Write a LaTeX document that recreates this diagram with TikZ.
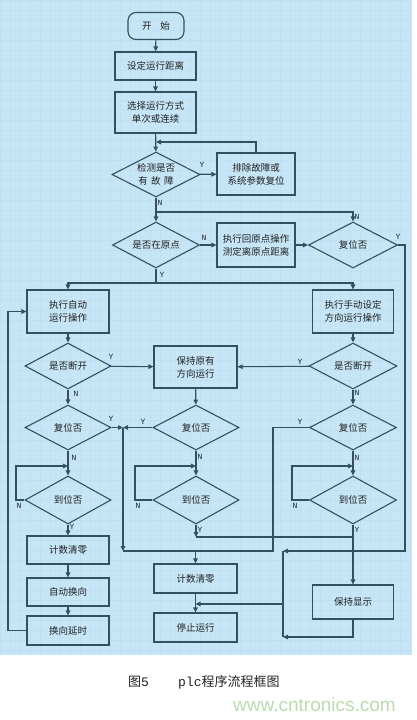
\documentclass[tikz,border=0pt]{standalone}
\usepackage{fontspec}
\newfontfamily\cjk{Noto Sans CJK SC}
\newfontfamily\monof{Liberation Mono}
\newfontfamily\wmfont{Liberation Sans}
\usetikzlibrary{shapes.geometric,arrows.meta}
\definecolor{bg}{HTML}{C6E5F6}
\definecolor{ln}{HTML}{34505E}
\definecolor{gridc}{HTML}{C0E0F2}
\definecolor{txt}{HTML}{222222}
\definecolor{wm}{HTML}{B8DCAE}
\begin{document}
\begin{tikzpicture}[x=1pt,y=-1pt,
 every node/.style={font=\cjk\fontsize{9.5}{13}\selectfont, text=txt},
 box/.style={draw=ln, line width=1.1pt, rectangle, align=center, inner sep=0pt},
 term/.style={draw=ln, line width=1.1pt, rectangle, rounded corners=8pt, align=center, inner sep=0pt},
 dia/.style={draw=ln, line width=1.1pt, diamond, aspect=2, align=center, inner sep=0pt},
 flow/.style={draw=ln, line width=1.1pt, -{Triangle[length=5pt,width=4.5pt]}},
 con/.style={draw=ln, line width=1.1pt},
 lab/.style={font=\monof\fontsize{8}{8}\selectfont, text=txt, inner sep=0pt}]
\useasboundingbox (0,0) rectangle (417,720);
\fill[bg] (0,0) rectangle (412,655);
\draw[gridc, line width=0.3pt] (0,0) grid[step=10pt] (412,655);

% nodes
\node[term, minimum width=56pt, minimum height=27pt] (st) at (156,26) {开\hspace{0.9em}始};
\node[box, minimum width=81pt, minimum height=28pt] (b1) at (155.5,66) {设定运行距离};
\node[box, minimum width=81pt, minimum height=41pt] (b2) at (155.5,112.5) {选择运行方式\\单次或连续};
\node[dia, minimum width=88pt, minimum height=45pt] (d1) at (156,174.5) {检测是否\\有\hspace{0.35em}故\hspace{0.35em}障};
\node[box, minimum width=78pt, minimum height=42pt] (b3) at (256,174) {排除故障或\\系统参数复位};
\node[dia, minimum width=87pt, minimum height=46pt] (d2) at (156,245) {是否在原点};
\node[box, minimum width=78pt, minimum height=44pt] (b4) at (256,245) {执行回原点操作\\测定离原点距离};
\node[dia, minimum width=89pt, minimum height=46pt] (d3) at (353,245) {复位否};
\node[box, minimum width=82pt, minimum height=43pt] (b5) at (68,311.5) {执行自动\\运行操作};
\node[box, minimum width=81pt, minimum height=43pt] (b6) at (353,311.5) {执行手动设定\\方向运行操作};
\node[dia, minimum width=86pt, minimum height=46pt] (d4) at (68,366) {是否断开};
\node[box, minimum width=83pt, minimum height=42pt] (b7) at (195.5,367) {保持原有\\方向运行};
\node[dia, minimum width=88pt, minimum height=46pt] (d5) at (353,366) {是否断开};
\node[dia, minimum width=86pt, minimum height=45pt] (d6) at (68,427.5) {复位否};
\node[dia, minimum width=86pt, minimum height=45pt] (d7) at (196,427.5) {复位否};
\node[dia, minimum width=87pt, minimum height=45pt] (d8) at (353,427.5) {复位否};
\node[dia, minimum width=86pt, minimum height=48pt] (d9) at (68,500) {到位否};
\node[dia, minimum width=86pt, minimum height=48pt] (d10) at (196,500) {到位否};
\node[dia, minimum width=87pt, minimum height=48pt] (d11) at (353,500) {到位否};
\node[box, minimum width=82pt, minimum height=28pt] (b8) at (68,550) {计数清零};
\node[box, minimum width=82pt, minimum height=28pt] (b9) at (68,592) {自动换向};
\node[box, minimum width=82pt, minimum height=29pt] (b10) at (68,630.5) {换向延时};
\node[box, minimum width=83pt, minimum height=29pt] (b11) at (195.5,578.5) {计数清零};
\node[box, minimum width=83pt, minimum height=29pt] (b12) at (195.5,627.5) {停止运行};
\node[box, minimum width=81pt, minimum height=34pt] (b13) at (353,602) {保持显示};

% coordinates
\coordinate (j0) at (156,142);
\coordinate (j1) at (156,212);
\coordinate (j2) at (156,283);
\coordinate (r1) at (405,551);
\coordinate (k1) at (283,551);
\coordinate (k2) at (283,637);
\coordinate (k3) at (283,604);
\coordinate (v1) at (123,427.5);
\coordinate (v2) at (123,551);
\coordinate (v3) at (273,551);
\coordinate (w1) at (196,537);
\coordinate (w2) at (353,537);
\coordinate (L2) at (8,311.5);
\coordinate (la) at (16,466);
\coordinate (lb) at (135,466);
\coordinate (lc) at (292,466);

% connectors
\draw[flow] (st) -- (b1);
\draw[flow] (b1) -- (b2);
\draw[flow] (b2) -- (d1);
\draw[flow] (d1) -- (b3);
\draw[flow] (b3.north) |- (j0);
\draw[flow] (d1) -- (d2);
\draw[flow] (j1) -| (d3.north);
\draw[flow] (d2) -- (b4);
\draw[flow] (b4) -- (d3);
\draw[flow] (d3.east) -| (r1) -- (k1);
\draw[con] (d2.south) -- (j2);
\draw[flow] (j2) -| (b5.north);
\draw[flow] (j2) -| (b6.north);
\draw[flow] (b10.west) -| (L2) -- (b5.west);
\draw[flow] (b5) -- (d4);
\draw[flow] (b6) -- (d5);
\draw[flow] (d4) -- (b7);
\draw[flow] (d5) -- (b7);
\draw[flow] (d4) -- (d6);
\draw[flow] (b7) -- (d7);
\draw[flow] (d5) -- (d8);
\draw[flow] (d6.east) -- (v1);
\draw[flow] (d7.west) -- (v1);
\draw[flow] (v1) -- (v2);
\draw[con] (d8.west) -| (v3) -- (v2);
\draw[flow] (v2 -| b11.north) -- (b11.north);
\draw[flow] (d6) -- (d9);
\draw[flow] (d7) -- (d10);
\draw[flow] (d8) -- (d11);
\draw[flow] (d9.west) -| (la) -- (la -| d9.north);
\draw[flow] (d10.west) -| (lb) -- (lb -| d10.north);
\draw[flow] (d11.west) -| (lc) -- (lc -| d11.north);
\draw[flow] (d9) -- (b8);
\draw[flow] (b8) -- (b9);
\draw[flow] (b9) -- (b10);
\draw[flow] (d10.south) -- (w1);
\draw[con] (w1) -- (w2);
\draw[flow] (d11) -- (b13);
\draw[flow] (b11) -- (b12);
\draw[con] (k1) -- (k2);
\draw[flow] (b13.south) |- (k2);
\draw[flow] (k3) -- (k3 -| b12.north);

% labels
\node[lab] (y1) at (202,165) {Y};
\node[lab] (n1) at (160,203) {N};
\node[lab] (n2) at (357,217) {N};
\node[lab] (n3) at (204,238) {N};
\node[lab] (y2) at (398,237) {Y};
\node[lab] (y3) at (162,275) {Y};
\node[lab] (y4) at (111,357) {Y};
\node[lab] (y5) at (300,362) {Y};
\node[lab] (n4) at (76,394) {N};
\node[lab] (n5) at (357,393) {N};
\node[lab] (y6) at (111,419) {Y};
\node[lab] (y7) at (143,422) {Y};
\node[lab] (y8) at (300,422) {Y};
\node[lab] (n6) at (74,458) {N};
\node[lab] (n7) at (200,457) {N};
\node[lab] (n8) at (357,458) {N};
\node[lab] (n9) at (19,506) {N};
\node[lab] (n10) at (138,506) {N};
\node[lab] (n11) at (295,506) {N};
\node[lab] (y9) at (72,527) {Y};
\node[lab] (y10) at (200,530) {Y};
\node[lab] (y11) at (357,530) {Y};

% caption and watermark
\node[anchor=west, inner sep=0pt, font=\cjk\fontsize{13}{13}\selectfont] (c1) at (128,682) {图\monof 5};
\node[anchor=west, inner sep=0pt, font=\cjk\fontsize{13}{13}\selectfont] (c2) at (178,682) {{\monof plc}程序流程框图};
\node[anchor=west, inner sep=0pt, font=\wmfont\fontsize{19}{19}\selectfont, text=wm] (wm) at (233,705) {www.cntronics.com};
\end{tikzpicture}
\end{document}
